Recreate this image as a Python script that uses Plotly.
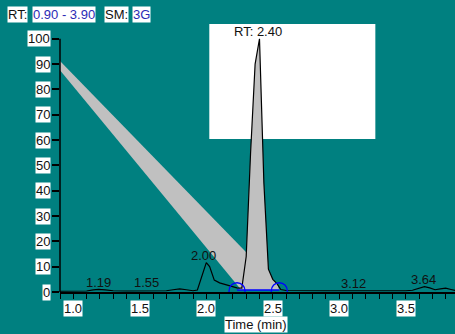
import plotly.graph_objects as go

# ---------------- data ----------------
time = [0.90, 1.00, 1.10, 1.15, 1.19, 1.24, 1.30, 1.40, 1.50, 1.55, 1.60, 1.70, 1.75, 1.80, 1.85,
        1.90, 1.933, 1.967, 2.00, 2.025, 2.06, 2.10, 2.16, 2.20, 2.23, 2.267, 2.30, 2.333, 2.367,
        2.40, 2.433, 2.467, 2.50, 2.533, 2.56, 2.60, 2.70, 2.80, 2.90, 3.00, 3.10, 3.12, 3.20,
        3.30, 3.40, 3.50, 3.55, 3.60, 3.64, 3.68, 3.72, 3.76, 3.80, 3.84, 3.872]
intensity = [0.3, 0.3, 0.4, 0.8, 1.0, 0.8, 0.5, 0.4, 0.5, 0.6, 0.5, 0.5, 0.9, 1.2, 0.9,
             0.5, 0.8, 6.5, 11.6, 10.0, 4.7, 3.6, 2.8, 2.0, 1.6, 1.5, 14.0, 55.0, 90.0,
             100.0, 43.0, 9.0, 5.0, 3.2, 1.0, 0.6, 0.5, 0.4, 0.5, 0.5, 0.5, 0.6, 0.5,
             0.4, 0.5, 0.5, 0.7, 1.6, 2.1, 1.6, 0.9, 1.2, 1.5, 1.0, 0.6]

peak_start, peak_end, peak_base = 2.231, 2.549, 0.8
band_x = [0.90, 2.481, 2.26, 0.90]
band_y = [91.2, 5.9, 1.0, 87.6]

label_text = ["1.19", "1.55", "2.00", "3.12", "3.64", "RT: 2.40"]
label_x = [1.19, 1.554, 1.98, 3.108, 3.634, 2.39]
label_y = [3.6, 3.6, 14.4, 3.2, 4.9, 102.9]

box_x = [2.0226, 3.271]
box_y = [60.4, 105.8]

y_ticks = [0, 10, 20, 30, 40, 50, 60, 70, 80, 90, 100]
x_ticks = [1.0, 1.5, 2.0, 2.5, 3.0, 3.5]
x_tick_text = ["1.0", "1.5", "2.0", "2.5", "3.0", "3.5"]

x_range = [0.90, 3.870]
y_range = [0, 107.0]

TEAL = "#008080"
FONT = "Liberation Sans, Arial, sans-serif"
BLUE_TXT = "#2b2bb5"

fig = go.Figure()

# gray band artefact
fig.add_trace(go.Scatter(x=band_x, y=band_y, mode="lines", fill="toself",
                         fillcolor="#c0c0c0", line=dict(width=0), hoverinfo="skip"))

# peak area fill
px_ = [peak_start] + [t for t in time if peak_start < t < peak_end] + [peak_end]
py_ = [peak_base] + [v for t, v in zip(time, intensity) if peak_start < t < peak_end] + [peak_base]
fig.add_trace(go.Scatter(x=px_, y=py_, mode="lines", fill="toself",
                         fillcolor="#c0c0c0", line=dict(width=0), hoverinfo="skip"))

# chromatogram line
fig.add_trace(go.Scatter(x=time, y=intensity, mode="lines",
                         line=dict(color="black", width=1.2)))

# integration baseline + markers
fig.add_trace(go.Scatter(x=[peak_start, peak_end], y=[peak_base, peak_base], mode="lines",
                         line=dict(color="#0000ff", width=1.5)))
fig.add_trace(go.Scatter(x=[peak_start, peak_end], y=[0.5, 0.5], mode="markers",
                         marker=dict(symbol="circle-open", size=16, color="#0000ff",
                                     line=dict(width=1.3, color="#0000ff")),
                         cliponaxis=True))

shapes = [
    dict(type="rect", xref="x", yref="y", x0=box_x[0], x1=box_x[1], y0=box_y[0], y1=box_y[1],
         fillcolor="white", line=dict(width=0), layer="below"),
    dict(type="line", xref="paper", yref="paper", x0=0, x1=0, y0=0,
         y1=(100 - y_range[0]) / (y_range[1] - y_range[0]),
         line=dict(color="black", width=1.5)),
]

annotations = []
for t, x, y in zip(label_text, label_x, label_y):
    annotations.append(dict(x=x, y=y, xref="x", yref="y", text=t, showarrow=False,
                            xanchor="center", yanchor="middle",
                            font=dict(family=FONT, size=13, color="#111")))
for v in y_ticks:
    annotations.append(dict(x=x_range[0], y=v, xref="x", yref="y", text=str(v), showarrow=False,
                            xanchor="right", yanchor="middle", xshift=-9, bgcolor="white",
                            borderpad=0, font=dict(family=FONT, size=13, color="#111")))
for v, t in zip(x_ticks, x_tick_text):
    annotations.append(dict(x=v, y=0, xref="x", yref="y", text=t, showarrow=False,
                            xanchor="center", yanchor="top", yshift=-8, bgcolor="white",
                            borderpad=0, font=dict(family=FONT, size=13, color="#111")))

def px2paper_x(p):
    return (p - 60) / 395.0

hdr_y = (292 - 14.5) / 271.0
for t, p, c in [("RT:", 7, "#111"), ("0.90 - 3.90", 32, BLUE_TXT),
                ("SM:", 104, "#111"), ("3G", 132, BLUE_TXT)]:
    annotations.append(dict(x=px2paper_x(p), y=hdr_y, xref="paper", yref="paper", text=t,
                            showarrow=False, xanchor="left", yanchor="middle",
                            bgcolor="white", borderpad=0,
                            font=dict(family=FONT, size=13, color=c)))

annotations.append(dict(x=px2paper_x(256), y=(292 - 324) / 271.0, xref="paper", yref="paper",
                        text="Time (min)", showarrow=False, xanchor="center", yanchor="middle",
                        bgcolor="white", borderpad=0,
                        font=dict(family=FONT, size=13, color="#111")))

fig.update_layout(
    width=455, height=334,
    margin=dict(l=60, r=0, t=21, b=42),
    paper_bgcolor=TEAL, plot_bgcolor=TEAL,
    showlegend=False,
    shapes=shapes, annotations=annotations,
    xaxis=dict(range=x_range, showgrid=False, zeroline=False, showline=True,
               linecolor="black", linewidth=1.5, ticks="outside", ticklen=5,
               tickcolor="black", tickwidth=1, tick0=1.0, dtick=0.5,
               showticklabels=False,
               minor=dict(dtick=0.1, tick0=0.9, ticks="outside", ticklen=5,
                          tickcolor="black", tickwidth=1)),
    yaxis=dict(range=y_range, showgrid=False, zeroline=False, showline=False,
               ticks="outside", ticklen=7, tickcolor="black", tickwidth=1.5,
               tickvals=y_ticks, showticklabels=False),
)

fig.write_html("out.html")
